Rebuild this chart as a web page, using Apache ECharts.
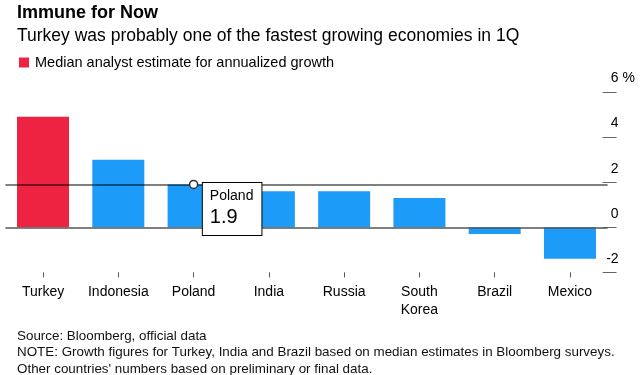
<!DOCTYPE html>
<html>
<head>
<meta charset="utf-8">
<script src="https://cdn.jsdelivr.net/npm/echarts@6/dist/echarts.min.js"></script>
<style>
  html, body { margin: 0; padding: 0; background: #fff; }
  #chart { width: 641px; height: 375px; }
</style>
</head>
<body>
<div id="chart"></div>
<script>
var countries = ['Turkey', 'Indonesia', 'Poland', 'India', 'Russia', 'South Korea', 'Brazil', 'Mexico'];
// Turkey is the only bar shown as an analyst estimate
var estimateValues = [4.9, '-', '-', '-', '-', '-', '-', '-'];
var officialValues = ['-', 3.0, 1.9, 1.6, 1.6, 1.3, -0.3, -1.4];
var highlight = { name: 'Poland', value: 1.9 };
var yTicks = { min: -2, max: 6, step: 2 };

var font = '"Liberation Sans", Arial, sans-serif';
var red = '#ee2341';
var blue = '#1d9bf9';

var myChart = echarts.init(document.getElementById('chart'));

const option = {
    animation: false,
    textStyle: { fontFamily: font },
    title: [
        {
            text: 'Immune for Now',
            subtext: 'Turkey was probably one of the fastest growing economies in 1Q',
            left: 17,
            top: 3.4,
            padding: 0,
            itemGap: 2.4,
            textStyle: { fontSize: 18, fontWeight: 'bold', color: '#000', lineHeight: 20, fontFamily: font },
            subtextStyle: { fontSize: 17.5, color: '#000', lineHeight: 20, fontFamily: font }
        },
        {
            text: 'Source: Bloomberg, official data\nNOTE: Growth figures for Turkey, India and Brazil based on median estimates in Bloomberg surveys.\nOther countries\' numbers based on preliminary or final data.',
            left: 17,
            top: 327.8,
            padding: 0,
            textStyle: { fontSize: 13.4, fontWeight: 'normal', color: '#111', lineHeight: 16.5, fontFamily: font }
        }
    ],
    legend: {
        data: ['Median analyst estimate for annualized growth'],
        left: 19,
        top: 55,
        padding: 0,
        icon: 'rect',
        itemWidth: 10,
        itemHeight: 10,
        itemGap: 10,
        selectedMode: false,
        textStyle: { fontSize: 14.5, color: '#000', padding: [0, 0, 0, 1] }
    },
    grid: { left: 5.4, right: 33.4, top: 92, bottom: 102.6, containLabel: false },
    xAxis: {
        type: 'category',
        data: countries,
        axisLine: { show: false, onZero: false },
        axisTick: { show: true, alignWithLabel: true, interval: 0, length: 5, lineStyle: { color: '#555', width: 1 } },
        axisLabel: {
            interval: 0,
            fontSize: 14,
            color: '#000',
            margin: 11,
            lineHeight: 18,
            formatter: function (v) { return v.replace(' ', '\n'); }
        }
    },
    yAxis: {
        type: 'value',
        position: 'right',
        offset: 9,
        min: yTicks.min,
        max: yTicks.max,
        interval: yTicks.step,
        axisLine: { show: false },
        axisTick: { show: true, inside: true, length: 14, lineStyle: { color: '#666', width: 1 } },
        splitLine: { show: false },
        axisLabel: {
            inside: true,
            margin: -2,
            fontSize: 14,
            color: '#000',
            align: 'right',
            verticalAlign: 'bottom',
            lineHeight: 14,
            padding: [0, 0, 6.5, 0],
            // the unit hangs past the right edge of the top label
            formatter: function (v) {
                return v === yTicks.max ? '{n|' + v + '}{p| %}' : String(v);
            },
            rich: {
                n: { fontSize: 14, color: '#000', align: 'left', lineHeight: 14 },
                p: { fontSize: 14, color: '#000', align: 'left', lineHeight: 14, width: 0 }
            }
        }
    },
    series: [
        {
            name: 'Median analyst estimate for annualized growth',
            type: 'bar',
            stack: 'growth',
            barWidth: 52,
            itemStyle: { color: red },
            data: estimateValues
        },
        {
            name: 'Official data',
            type: 'bar',
            stack: 'growth',
            barWidth: 52,
            itemStyle: { color: blue },
            data: officialValues,
            markLine: {
                silent: true,
                symbol: 'none',
                label: { show: false },
                data: [
                    { yAxis: 0, lineStyle: { color: '#555', width: 1.5, type: 'solid' } },
                    { yAxis: highlight.value, lineStyle: { color: 'rgba(0,0,0,0.5)', width: 2, type: 'solid' } }
                ]
            },
            markPoint: {
                silent: true,
                symbol: 'circle',
                symbolSize: 8,
                itemStyle: { color: '#fff', borderColor: '#333', borderWidth: 1.5 },
                label: {
                    show: true,
                    position: [14, 3.3],
                    align: 'left',
                    verticalAlign: 'top',
                    backgroundColor: '#fff',
                    borderColor: '#000',
                    borderWidth: 1,
                    padding: [3.5, 8, 6.5, 7],
                    formatter: function (p) { return '{a|' + p.name + '}\n{b|' + p.value + '}'; },
                    rich: {
                        a: { fontSize: 14, lineHeight: 20, color: '#000', fontFamily: font },
                        b: { fontSize: 20, lineHeight: 22, color: '#000', fontFamily: font }
                    }
                },
                data: [{ name: highlight.name, coord: [highlight.name, highlight.value], value: highlight.value }]
            }
        }
    ]
};

myChart.setOption(option);
</script>
</body>
</html>
